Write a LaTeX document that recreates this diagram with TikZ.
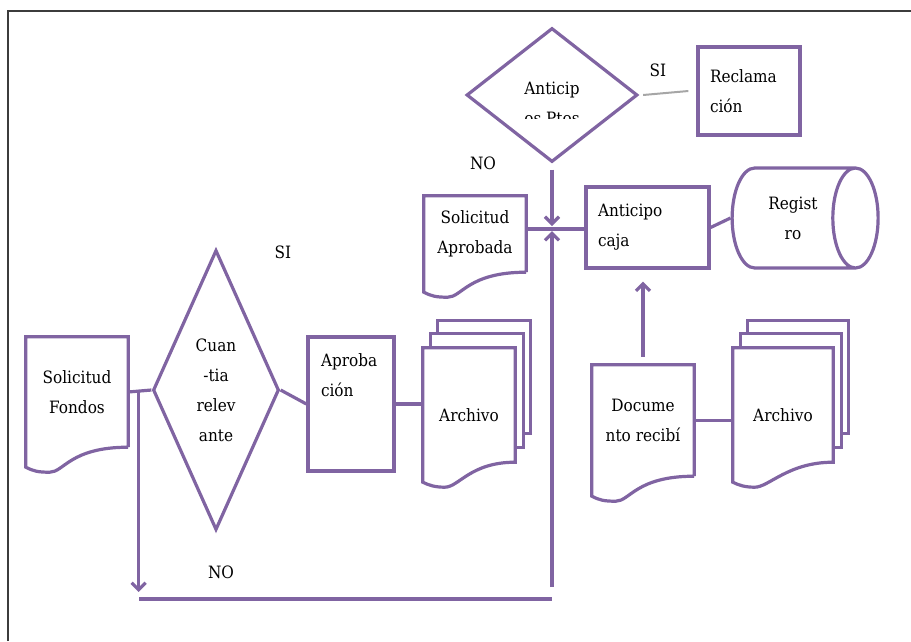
\documentclass[tikz,border=0pt]{standalone}
\usepackage{fontspec}
\setmainfont{DejaVu Serif Condensed}
\usetikzlibrary{positioning, arrows.meta, shapes.geometric, calc}
\definecolor{flowPurple}{HTML}{8064A2}
\definecolor{frameGray}{HTML}{3C3C3C}
\definecolor{siGray}{HTML}{A6A6A6}
\newcommand{\chartfont}{\fontsize{17}{30}\selectfont}

% document with wavy foot
\newcommand{\docoutline}[1]{%
  \draw[flow] (#1.south east) -- (#1.north east) -- (#1.north west)
    -- ([yshift=-20pt]#1.south west)
    .. controls +(8pt,-4pt) and +(-12pt,0pt) .. ([shift={(24pt,-25pt)}]#1.south west)
    .. controls +(14pt,0pt) and +(-58pt,0pt) .. (#1.south east);}

% stack of three documents
\newcommand{\stackoutline}[1]{%
  \draw[flow] ([xshift=15pt,yshift=14pt]#1.north west) -- ++(0,13pt)
    -| ([shift={(15pt,49pt)}]#1.south east) -- ++(-7pt,0);
  \draw[flow] ([xshift=8pt]#1.north west) -- ++(0,14pt)
    -| ([shift={(8pt,35pt)}]#1.south east) -- ++(-8pt,0);
  \draw[flow, fill=white] (#1.north west) -- (#1.north east) -- ([yshift=20pt]#1.south east)
    .. controls +(-45pt,0pt) and +(14pt,0pt) .. ([shift={(22pt,-5pt)}]#1.south west)
    .. controls +(-10pt,0pt) and +(6pt,-3pt) .. (#1.south west) -- cycle;}

\begin{document}
\begin{tikzpicture}[x=1pt, y=-1pt,
  every node/.style={font=\chartfont},
  flow/.style={draw=flowPurple, line width=3.2pt},
  flowarrow/.style={flow, -{Straight Barb[length=7pt,width=14pt]}},
  procbox/.style={flow, rectangle, inner xsep=12pt, align=left},
  docnode/.style={rectangle, inner sep=0pt, align=center},
  decision/.style={flow, diamond, inner sep=0pt, align=center},
  store/.style={flow, cylinder, inner sep=0pt, align=center}]

  \useasboundingbox (0,0) rectangle (911,641);
  \draw[frameGray, line width=1.6pt] (8,641) -- (8,11) -- (911,11);

  % left branch
  \node[docnode, minimum width=102pt, minimum height=110pt] (solfondos) at (77,392) {Solicitud\\Fondos};
  \docoutline{solfondos}
  \node[decision, aspect=0.45, minimum width=126pt, minimum height=280pt] (cuantia) at (216,390) {Cuan\\-tia\\relev\\ante};
  \node[procbox, minimum width=86pt, minimum height=134pt, inner ysep=15pt] (aprobacion) at (351,404)
    {\parbox[c][100pt][t]{60pt}{Aproba\\ción}};
  \node[docnode, minimum width=92pt, minimum height=134pt] (archivoA) at (469,415) {};
  \stackoutline{archivoA}
  \node[docnode] (archivoAtext) at (archivoA) {Archivo};

  % upper branch
  \node[decision, minimum width=171pt, minimum height=134pt] (antdec) at (552,95) {};
  \begin{scope}
    \clip (460,20) rectangle (650,118);
    \node[docnode] (antdectext) at (552,103) {Anticip\\os Ptos};
  \end{scope}
  \node[procbox, minimum width=102pt, minimum height=88pt, text width=78pt] (reclamacion) at (749,91) {Reclama\\ción};
  \node[docnode, minimum width=102pt, minimum height=76pt] (solaprob) at (475,234) {Solicitud\\Aprobada};
  \docoutline{solaprob}
  \node[procbox, minimum width=123pt, minimum height=81pt, text width=99pt] (anticipo) at (647.5,227.5) {Anticipo\\caja};
  \node[store, aspect=1.06, minimum width=100pt, minimum height=146pt] (registro) at (793,218) {Regist\\ro};

  % right branch
  \node[docnode, minimum width=102pt, minimum height=111pt] (documento) at (643,420.5) {Docume\\nto recibí};
  \docoutline{documento}
  \node[docnode, minimum width=100pt, minimum height=134pt] (archivoB) at (783,415) {};
  \stackoutline{archivoB}
  \node[docnode] (archivoBtext) at (archivoB) {Archivo};

  % connectors
  \coordinate (split) at ($(solfondos.east)!0.45!(cuantia.west)$);
  \coordinate (lowL) at (139,599);
  \coordinate (lowR) at (552,599);
  \coordinate (merge) at (552,229);

  \draw[flow] (solfondos.east) -- (cuantia.west);
  \draw[flowarrow] (split) -- ([yshift=7pt]split |- lowL);
  \draw[flow] (lowL) -- (lowR);
  \draw[flowarrow] ([yshift=12pt]lowR) -- ([yshift=-2pt]merge);
  \node (nolow) at (221,572) {NO};

  \draw[flow] (cuantia.east) -- (aprobacion.west);
  \node (silow) at (283,252) {SI};
  \draw[flow] (aprobacion.east) -- (aprobacion.east -| archivoA.west);

  \draw[flowarrow] ([yshift=-6pt]antdec.south) -- ([yshift=3pt]merge);
  \node (notop) at (483,163) {NO};
  \draw[siGray, line width=2pt] ([xshift=4pt]antdec.east) -- ([xshift=-8pt]reclamacion.west);
  \node (sitop) at (658,70) {SI};

  \draw[flow] (solaprob.east |- merge) -- (anticipo.west |- merge);
  \draw[flow] (anticipo.east) -- (registro.west);
  \draw[flowarrow] ([yshift=8pt]documento.north) -- ([yshift=-12pt]documento.north |- anticipo.south);
  \draw[flow] (documento.east) -- (documento.east -| archivoB.west);
\end{tikzpicture}
\end{document}
